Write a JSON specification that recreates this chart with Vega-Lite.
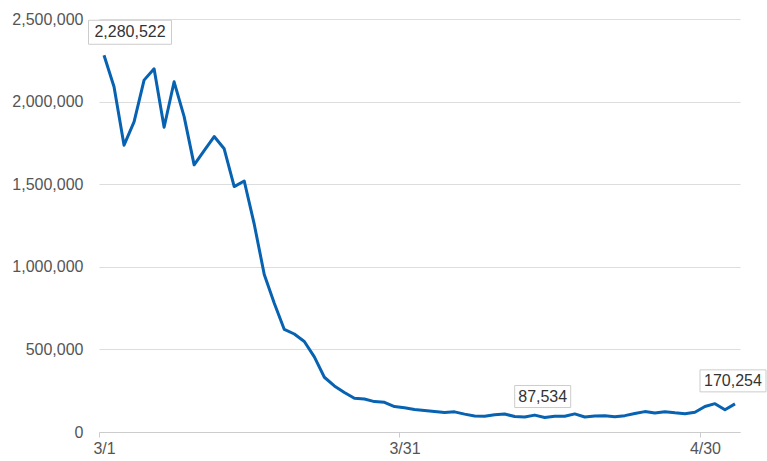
{
  "$schema": "https://vega.github.io/schema/vega-lite/v6.json",
  "width": 641,
  "height": 413,
  "autosize": {"type": "none"},
  "padding": {"left": 99, "top": 19, "right": 27, "bottom": 29},
  "background": "white",
  "config": {
    "font": "Liberation Sans",
    "view": {"stroke": null},
    "axis": {"labelFont": "Liberation Sans", "labelFontSize": 16, "labelColor": "#555555"}
  },
  "data": {
    "format": {"parse": {"date": "date:'%Y-%m-%d'"}},
    "values": [
      {"date": "2020-03-01", "value": 2280522},
      {"date": "2020-03-02", "value": 2089641},
      {"date": "2020-03-03", "value": 1736393},
      {"date": "2020-03-04", "value": 1877401},
      {"date": "2020-03-05", "value": 2130015},
      {"date": "2020-03-06", "value": 2198517},
      {"date": "2020-03-07", "value": 1844811},
      {"date": "2020-03-08", "value": 2119867},
      {"date": "2020-03-09", "value": 1909363},
      {"date": "2020-03-10", "value": 1617220},
      {"date": "2020-03-11", "value": 1702686},
      {"date": "2020-03-12", "value": 1788456},
      {"date": "2020-03-13", "value": 1714372},
      {"date": "2020-03-14", "value": 1485553},
      {"date": "2020-03-15", "value": 1519192},
      {"date": "2020-03-16", "value": 1257823},
      {"date": "2020-03-17", "value": 953699},
      {"date": "2020-03-18", "value": 779631},
      {"date": "2020-03-19", "value": 620883},
      {"date": "2020-03-20", "value": 593167},
      {"date": "2020-03-21", "value": 548132},
      {"date": "2020-03-22", "value": 454516},
      {"date": "2020-03-23", "value": 331431},
      {"date": "2020-03-24", "value": 279018},
      {"date": "2020-03-25", "value": 239234},
      {"date": "2020-03-26", "value": 203858},
      {"date": "2020-03-27", "value": 199644},
      {"date": "2020-03-28", "value": 184027},
      {"date": "2020-03-29", "value": 180002},
      {"date": "2020-03-30", "value": 154080},
      {"date": "2020-03-31", "value": 146348},
      {"date": "2020-04-01", "value": 136023},
      {"date": "2020-04-02", "value": 129763},
      {"date": "2020-04-03", "value": 124021},
      {"date": "2020-04-04", "value": 118302},
      {"date": "2020-04-05", "value": 122029},
      {"date": "2020-04-06", "value": 108310},
      {"date": "2020-04-07", "value": 97130},
      {"date": "2020-04-08", "value": 94931},
      {"date": "2020-04-09", "value": 104090},
      {"date": "2020-04-10", "value": 108977},
      {"date": "2020-04-11", "value": 93645},
      {"date": "2020-04-12", "value": 90510},
      {"date": "2020-04-13", "value": 102184},
      {"date": "2020-04-14", "value": 87534},
      {"date": "2020-04-15", "value": 95085},
      {"date": "2020-04-16", "value": 95458},
      {"date": "2020-04-17", "value": 109499},
      {"date": "2020-04-18", "value": 90784},
      {"date": "2020-04-19", "value": 97000},
      {"date": "2020-04-20", "value": 99000},
      {"date": "2020-04-21", "value": 92859},
      {"date": "2020-04-22", "value": 98968},
      {"date": "2020-04-23", "value": 111627},
      {"date": "2020-04-24", "value": 123464},
      {"date": "2020-04-25", "value": 114459},
      {"date": "2020-04-26", "value": 123000},
      {"date": "2020-04-27", "value": 116000},
      {"date": "2020-04-28", "value": 110913},
      {"date": "2020-04-29", "value": 119629},
      {"date": "2020-04-30", "value": 154695},
      {"date": "2020-05-01", "value": 171563},
      {"date": "2020-05-02", "value": 134261},
      {"date": "2020-05-03", "value": 170254}
    ]
  },
  "encoding": {
    "x": {
      "field": "date",
      "type": "temporal",
      "timeUnit": "yearmonthdate",
      "bandPosition": 0.5,
      "title": null,
      "scale": {"domain": [{"year": 2020, "month": 3, "date": 1}, {"year": 2020, "month": 5, "date": 4}]},
      "axis": {
        "values": [{"year": 2020, "month": 3, "date": 1}, {"year": 2020, "month": 3, "date": 31}, {"year": 2020, "month": 4, "date": 30}],
        "format": "%-m/%-d",
        "formatType": "time",
        "grid": false,
        "domainColor": "#cccccc",
        "tickColor": "#cccccc",
        "tickSize": 5,
        "labelPadding": 3,
        "labelOffset": 5,
        "labelFlush": false
      }
    },
    "y": {
      "field": "value",
      "type": "quantitative",
      "title": null,
      "scale": {"domain": [0, 2500000], "nice": false},
      "axis": {
        "values": [0, 500000, 1000000, 1500000, 2000000, 2500000],
        "format": ",.0f",
        "domain": false,
        "ticks": false,
        "labelPadding": 16,
        "gridColor": "#dddddd",
        "gridWidth": 1
      }
    }
  },
  "layer": [
    {"mark": {"type": "line", "color": "#0762b1", "strokeWidth": 3, "strokeJoin": "round"}},
    {
      "transform": [{"filter": "datum.value == 2280522"}],
      "layer": [
        {"mark": {"type": "rect", "width": 83, "height": 24, "xOffset": 26, "yOffset": -23, "fill": "white", "stroke": "#cccccc", "strokeWidth": 1}},
        {"mark": {"type": "text", "xOffset": 26, "yOffset": -23, "fontSize": 16, "color": "#333333", "align": "center", "baseline": "middle"}, "encoding": {"text": {"field": "value", "type": "quantitative", "format": ",.0f"}}}
      ]
    },
    {
      "transform": [{"filter": "datum.value == 87534"}],
      "layer": [
        {"mark": {"type": "rect", "width": 56, "height": 22, "xOffset": -2, "yOffset": -21, "fill": "white", "stroke": "#cccccc", "strokeWidth": 1}},
        {"mark": {"type": "text", "xOffset": -2, "yOffset": -21, "fontSize": 16, "color": "#333333", "align": "center", "baseline": "middle"}, "encoding": {"text": {"field": "value", "type": "quantitative", "format": ",.0f"}}}
      ]
    },
    {
      "transform": [{"filter": "datum.value == 170254"}],
      "layer": [
        {"mark": {"type": "rect", "width": 66, "height": 22, "xOffset": -2, "yOffset": -23, "fill": "white", "stroke": "#cccccc", "strokeWidth": 1}},
        {"mark": {"type": "text", "xOffset": -2, "yOffset": -23, "fontSize": 16, "color": "#333333", "align": "center", "baseline": "middle"}, "encoding": {"text": {"field": "value", "type": "quantitative", "format": ",.0f"}}}
      ]
    }
  ]
}
